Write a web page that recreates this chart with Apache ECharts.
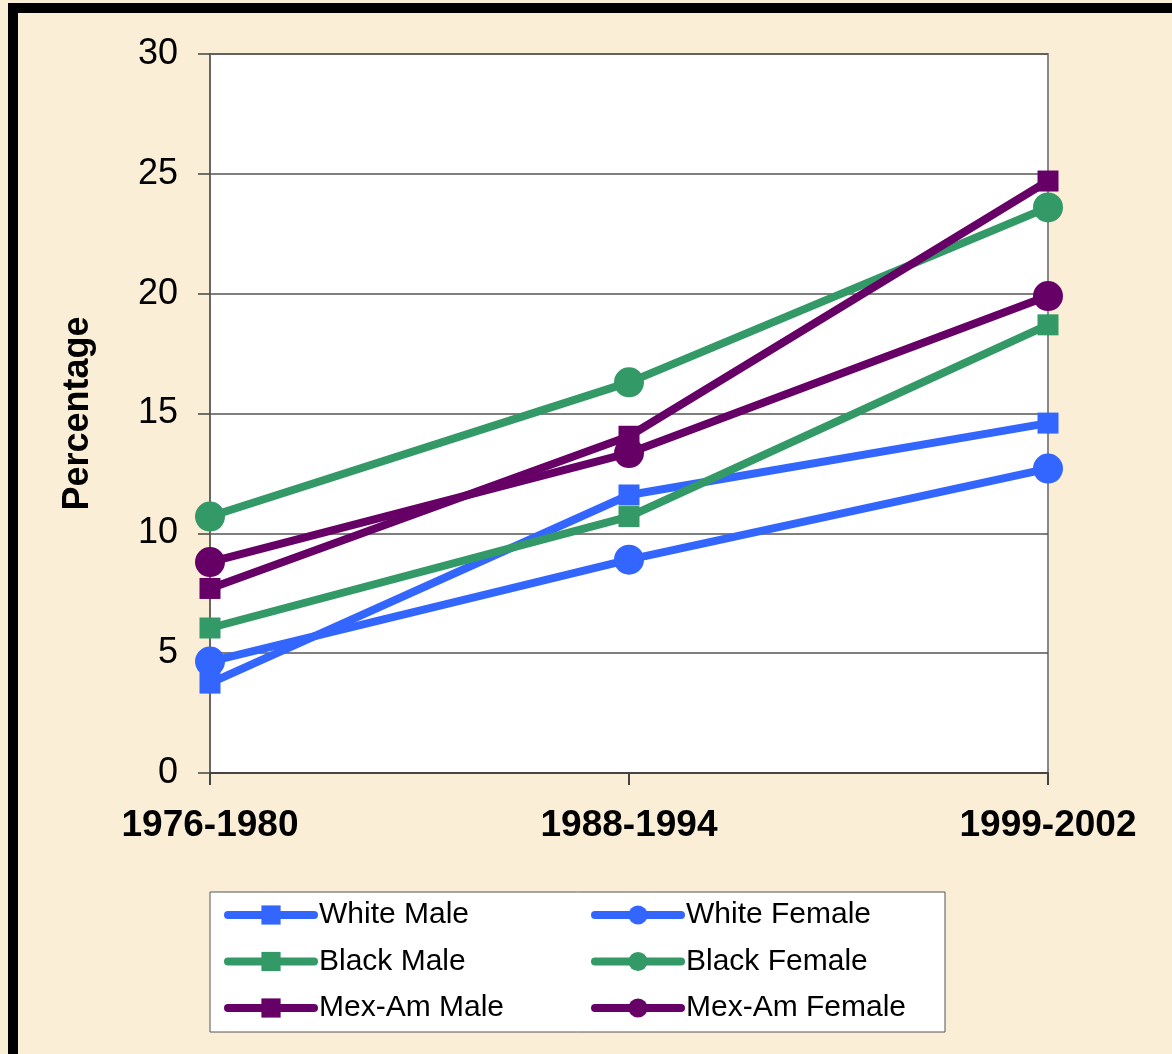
<!DOCTYPE html>
<html lang="en">
<head>
    <meta charset="UTF-8">
    <title>Percentage by survey period</title>
    <script src="https://cdn.jsdelivr.net/npm/echarts@6/dist/echarts.min.js"></script>
    <style>
        html, body { margin: 0; padding: 0; background: #FBEED6; }
    </style>
</head>
<body>
    <div id="chart" style="width: 1172px; height: 1054px;"></div>

    <script>
        // data
        const periods = ['1976-1980', '1988-1994', '1999-2002'];
        const whiteMale = [3.75, 11.6, 14.6];
        const whiteFemale = [4.65, 8.9, 12.7];
        const blackMale = [6.05, 10.7, 18.7];
        const blackFemale = [10.7, 16.3, 23.6];
        const mexMale = [7.7, 14.05, 24.7];
        const mexFemale = [8.8, 13.35, 19.9];
        const yTicks = [0, 5, 10, 15, 20, 25, 30];

        const blue = '#3366FF';
        const green = '#339966';
        const purple = '#660066';

        function makeSeries(name, data, color, symbol) {
            return {
                name: name,
                type: 'line',
                data: data,
                symbol: symbol === 'rect' ? 'rect' : 'circle',
                symbolSize: symbol === 'rect' ? 21 : 30,
                lineStyle: { width: 8, color: color },
                itemStyle: { color: color },
                emphasis: { disabled: true }
            };
        }

        const chart = echarts.init(document.getElementById('chart'));

        const legendText = { fontFamily: 'Liberation Sans, Arial', fontSize: 30, color: '#000' };

        const option = {
            backgroundColor: '#FBEED6',
            animation: false,
            graphic: [
                // black frame, top and left
                { type: 'rect', shape: { x: 8, y: 3, width: 1164, height: 10 }, style: { fill: '#000' }, z: 0 },
                { type: 'rect', shape: { x: 8, y: 3, width: 10, height: 1051 }, style: { fill: '#000' }, z: 0 },
                // legend box
                { type: 'rect', shape: { x: 210, y: 892, width: 735, height: 140 },
                  style: { fill: '#fff', stroke: '#555', lineWidth: 1 }, z: 0 }
            ],
            grid: {
                left: 210, top: 54, right: 124, bottom: 281,
                show: true, backgroundColor: '#fff', borderColor: '#888', borderWidth: 2
            },
            xAxis: {
                type: 'category',
                data: periods,
                boundaryGap: false,
                axisLine: { lineStyle: { color: '#444', width: 2 } },
                axisTick: { show: true, length: 12, lineStyle: { color: '#444', width: 2 } },
                axisLabel: {
                    margin: 34,
                    fontFamily: 'Liberation Sans, Arial',
                    fontWeight: 'bold', fontSize: 37, color: '#000'
                },
                splitLine: { show: false }
            },
            yAxis: {
                type: 'value',
                min: yTicks[0], max: yTicks[yTicks.length - 1], interval: 5,
                name: 'Percentage',
                nameLocation: 'middle',
                nameRotate: 90,
                nameGap: 114,
                nameTextStyle: { fontFamily: 'Liberation Sans, Arial', fontWeight: 'bold', fontSize: 36, color: '#000' },
                axisLine: { show: true, lineStyle: { color: '#666', width: 2 } },
                axisTick: { show: true, length: 12, lineStyle: { color: '#444', width: 1.5 } },
                axisLabel: { margin: 32, fontFamily: 'Liberation Sans, Arial', fontSize: 36, color: '#000' },
                splitLine: { show: true, lineStyle: { color: '#555', width: 1.5 } }
            },
            legend: [
                {
                    orient: 'vertical', left: 224, top: 900, padding: 0,
                    itemWidth: 86, itemHeight: 24, itemGap: 16.5, z: 10,
                    lineStyle: { width: 8, cap: 'round' },
                    data: ['White Male', 'Black Male', 'Mex-Am Male'],
                    textStyle: legendText
                },
                {
                    orient: 'vertical', left: 591, top: 900, padding: 0,
                    itemWidth: 86, itemHeight: 24, itemGap: 16.5, z: 10,
                    lineStyle: { width: 8, cap: 'round' },
                    data: ['White Female', 'Black Female', 'Mex-Am Female'],
                    textStyle: legendText
                }
            ],
            series: [
                makeSeries('White Male', whiteMale, blue, 'rect'),
                makeSeries('White Female', whiteFemale, blue, 'circle'),
                makeSeries('Black Male', blackMale, green, 'rect'),
                makeSeries('Black Female', blackFemale, green, 'circle'),
                makeSeries('Mex-Am Male', mexMale, purple, 'rect'),
                makeSeries('Mex-Am Female', mexFemale, purple, 'circle')
            ]
        };

        chart.setOption(option);
    </script>
</body>
</html>
